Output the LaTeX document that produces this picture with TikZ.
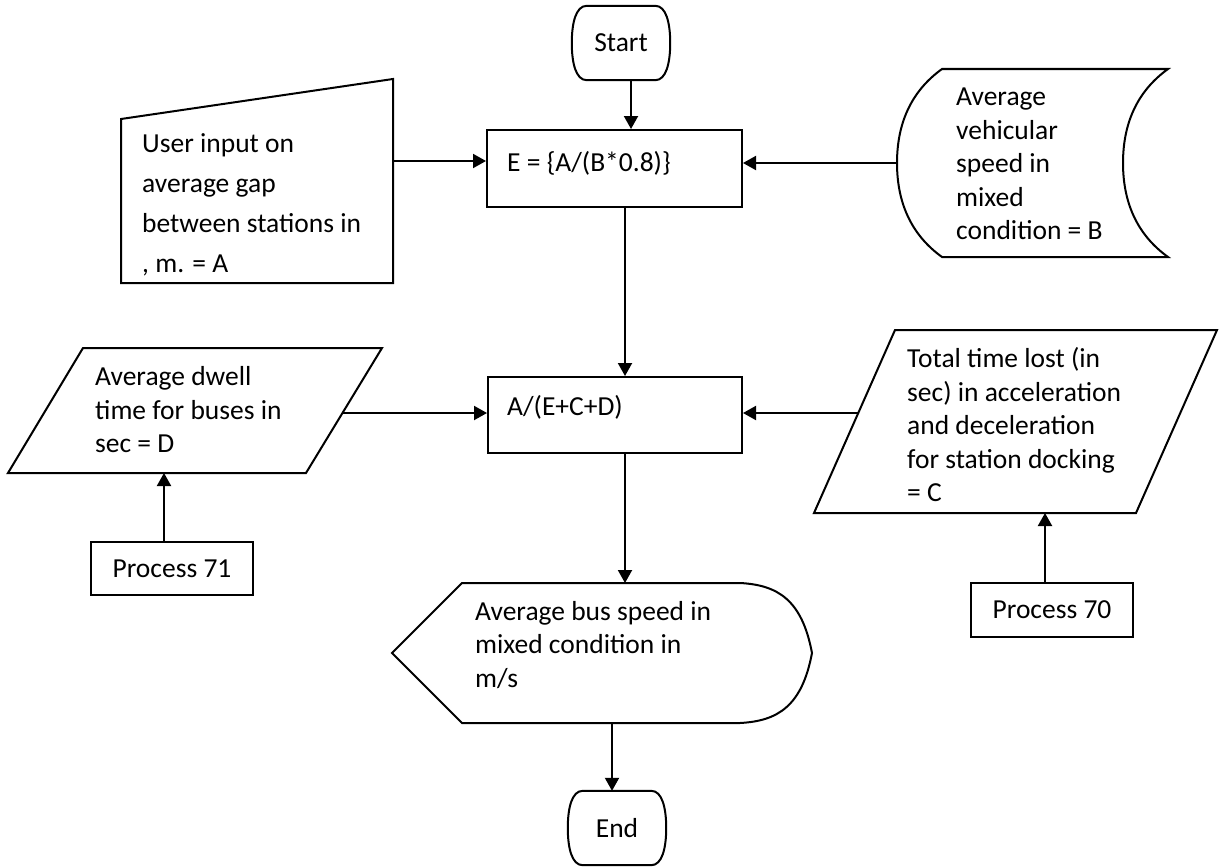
\documentclass[tikz,border=0pt]{standalone}
\usepackage{fontspec}
\setmainfont{Carlito}
\usetikzlibrary{arrows.meta, positioning}
\tikzset{
    flow font/.style={font=\fontsize{27.5}{33.5}\selectfont},
    shape line/.style={line width=2pt, line join=miter},
    process node/.style={rectangle, draw, shape line, flow font},
    terminal node/.style={rectangle, minimum width=98pt, minimum height=74pt, flow font},
    flow text/.style={flow font, align=left, inner sep=0pt, anchor=west},
    arrow style/.style={-{Triangle[length=13pt, width=14pt]}, line width=2pt},
}

\begin{document}
\begin{tikzpicture}[x=1pt, y=-1pt]
    \useasboundingbox (0,0) rectangle (1220,867);

    \node[terminal node] (start) at (621,43) {Start};
    \node[process node, minimum width=255pt, minimum height=77pt] (ebox) at (614.5,168.5) {};
    \node[flow text] (etext) at (507,163) {E = \{A/(B*0.8)\}};
    \node[process node, minimum width=254pt, minimum height=76pt] (calc) at (615,415) {};
    \node[flow text] (calctext) at (507,407) {A/(E+C+D)};
    \node[process node, minimum width=162pt, minimum height=53pt] (p71) at (172,568.5) {Process 71};
    \node[process node, minimum width=162pt, minimum height=54pt] (p70) at (1052,610) {Process 70};
    \node[terminal node] (end) at (617,828) {End};

    \foreach \t in {start, end}
        \draw[shape line] ([xshift=15pt]\t.north west) -- ([xshift=-15pt]\t.north east)
            .. controls ([xshift=-4pt]\t.north east) and ([yshift=20pt]\t.east) .. (\t.east)
            .. controls ([yshift=-20pt]\t.east) and ([xshift=-4pt]\t.south east) .. ([xshift=-15pt]\t.south east)
            -- ([xshift=15pt]\t.south west)
            .. controls ([xshift=4pt]\t.south west) and ([yshift=-20pt]\t.west) .. (\t.west)
            .. controls ([yshift=20pt]\t.west) and ([xshift=4pt]\t.north west) .. cycle;

    \draw[shape line] (121,119) -- (393,79) -- (393,283) -- (121,283) -- cycle;
    \node[flow text, font=\fontsize{27.5}{40}\selectfont] (gap) at (142,205)
        {User input on\\average gap\\between stations in\\, m. = A};

    \draw[shape line] (942,69) -- (1168,69) .. controls (1136,92) and (1123,125) .. (1123,163)
        .. controls (1123,201) and (1136,234) .. (1168,257) -- (942,257)
        .. controls (910,234) and (897,201) .. (897,163) .. controls (897,125) and (910,92) .. cycle;
    \node[flow text] (vehspeed) at (956,164)
        {Average\\vehicular\\speed in\\mixed\\condition = B};

    \draw[shape line] (83,348) -- (382,348) -- (306,473) -- (8,473) -- cycle;
    \node[flow text] (dwell) at (95,410) {Average dwell\\time for buses in\\sec = D};

    \draw[shape line] (895,330) -- (1217,330) -- (1136,513) -- (814,513) -- cycle;
    \node[flow text] (lost) at (907,425)
        {Total time lost (in\\sec) in acceleration\\and deceleration\\for station docking\\= C};

    \draw[shape line] (462,583) -- (740,583) .. controls (778,585) and (802,600) .. (812,653)
        .. controls (802,706) and (778,721) .. (740,723) -- (462,723) -- (392,653) -- cycle;
    \node[flow text] (busspeed) at (475,645) {Average bus speed in\\mixed condition in\\m/s};

    \coordinate (gap out) at (393,161);
    \coordinate (vehspeed in) at (897,163);
    \coordinate (dwell out) at (342,413);
    \coordinate (dwell in) at (164,473);
    \coordinate (lost out) at (858,413);
    \coordinate (lost in) at (1045,513);
    \coordinate (bus in) at (625,583);
    \coordinate (bus out) at (612,723);

    \draw[arrow style] ([xshift=10pt]start.south) -- ([xshift=16.5pt]ebox.north);
    \draw[arrow style] (gap out) -- (gap out -| ebox.west);
    \draw[arrow style] (vehspeed in) -- (vehspeed in -| ebox.east);
    \draw[arrow style] ([xshift=10.5pt]ebox.south) -- ([xshift=10pt]calc.north);
    \draw[arrow style] (dwell out) -- (dwell out -| calc.west);
    \draw[arrow style] (lost out) -- (lost out -| calc.east);
    \draw[arrow style] (calc.south -| bus in) -- (bus in);
    \draw[arrow style] (bus out) -- (bus out |- end.north);
    \draw[arrow style] (p71.north -| dwell in) -- (dwell in);
    \draw[arrow style] (p70.north -| lost in) -- (lost in);
\end{tikzpicture}
\end{document}
